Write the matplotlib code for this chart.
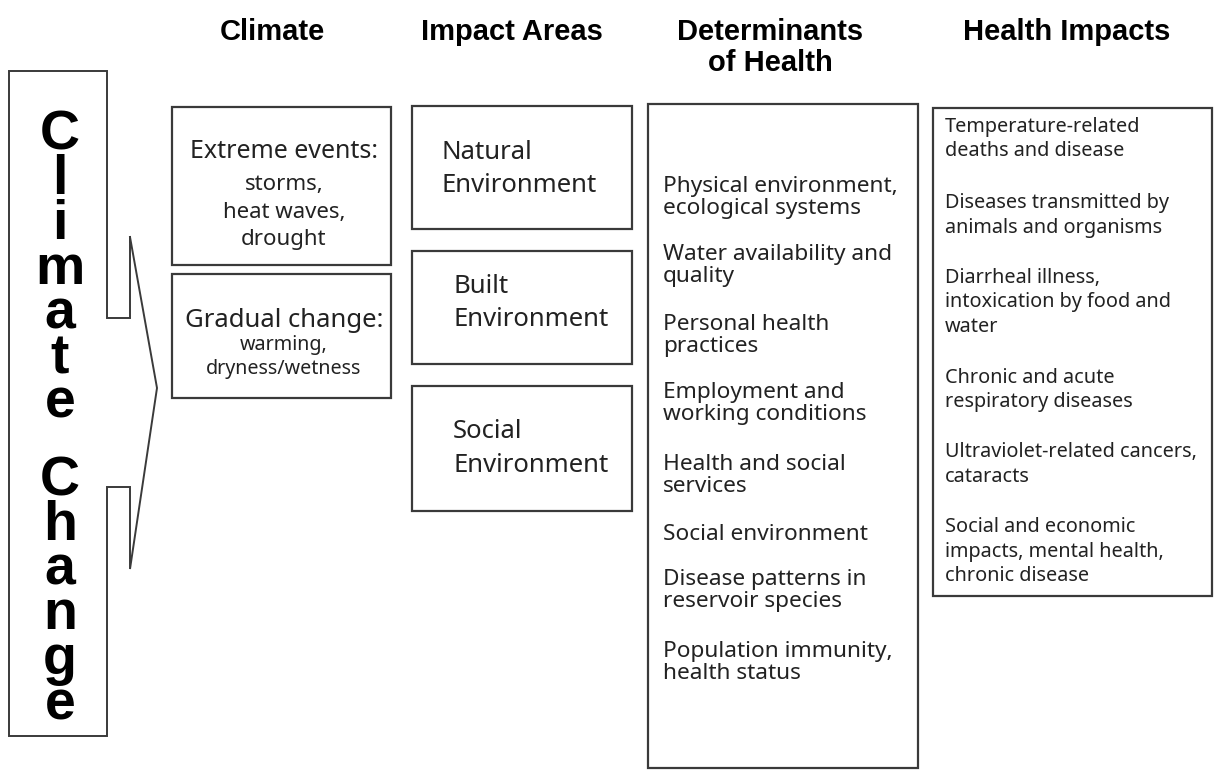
import matplotlib.pyplot as plt
from matplotlib.patches import Rectangle

# column headers
headers = ['Climate', 'Impact Areas', 'Determinants\nof Health', 'Health Impacts']
header_x = [272, 512, 770, 1067]

# vertical title, one word per stack
title_words = ['Climate', 'Change']

# climate boxes: (heading, detail lines)
climate_heads = ['Extreme events:', 'Gradual change:']
climate_details = [['storms,', 'heat waves,', 'drought'],
                   ['warming,', 'dryness/wetness']]

impact_areas = [['Natural', 'Environment'],
                ['Built', 'Environment'],
                ['Social', 'Environment']]

determinants = [
    ['Physical environment,', 'ecological systems'],
    ['Water availability and', 'quality'],
    ['Personal health', 'practices'],
    ['Employment and', 'working conditions'],
    ['Health and social', 'services'],
    ['Social environment'],
    ['Disease patterns in', 'reservoir species'],
    ['Population immunity,', 'health status'],
]

health_impacts = [
    ['Temperature-related', 'deaths and disease'],
    ['Diseases transmitted by', 'animals and organisms'],
    ['Diarrheal illness,', 'intoxication by food and', 'water'],
    ['Chronic and acute', 'respiratory diseases'],
    ['Ultraviolet-related cancers,', 'cataracts'],
    ['Social and economic', 'impacts, mental health,', 'chronic disease'],
]

W, H = 1214, 771
fig = plt.figure(figsize=(W / 100, H / 100), dpi=100)
ax = fig.add_axes([0, 0, 1, 1])
ax.set_xlim(0, W)
ax.set_ylim(H, 0)
ax.axis('off')

body_font = 'Noto Sans'
txt_col = '#222222'
edge = '#3a3a3a'


def box(x0, y0, x1, y1, lw=1.6):
    ax.add_patch(Rectangle((x0, y0), x1 - x0, y1 - y0, fill=False,
                           edgecolor=edge, lw=lw))


# headers (va='baseline' pins the last line)
for name, x in zip(headers, header_x):
    ax.text(x, 40 if '\n' not in name else 71, name, ha='center', va='baseline',
            fontsize=21, fontweight='bold', family='Liberation Sans',
            linespacing=1.15)

# climate change outline with arrow notch
ox0, ox1, oy0, oy1 = 9, 107, 71, 736
nx, tip_x = 130, 157
n_top, n_up, tip_y, n_lo, n_bot = 237, 318, 388, 487, 569
ax.plot([nx, nx, ox1, ox1, ox0, ox0, ox1, ox1, nx, nx, tip_x, nx],
        [n_top, n_up, n_up, oy0, oy0, oy1, oy1, n_lo, n_lo, n_bot, tip_y, n_top],
        color=edge, lw=1.4, solid_joinstyle='miter')

title_last_baseline = [418, 719]
title_spacing = [0.82, 0.82]
for word, yb, ls in zip(title_words, title_last_baseline, title_spacing):
    ax.text(60, yb, '\n'.join(word), ha='center', va='baseline', fontsize=40,
            fontweight='bold', family='Liberation Sans', color='black',
            linespacing=ls)

# climate boxes
box(172, 107, 391, 265)
box(172, 274, 391, 398)
head_y = [158, 327]
head_size = [18, 18.5]
detail_y = [[190, 218, 245], [350, 374]]
detail_size = [16, 14.2]
for head, hy, hs, det, dys, ds in zip(climate_heads, head_y, head_size,
                                      climate_details, detail_y, detail_size):
    ax.text(284, hy, head, ha='center', va='baseline', fontsize=hs,
            family=body_font, color=txt_col)
    for line, yy in zip(det, dys):
        ax.text(284, yy, line, ha='center', va='baseline', fontsize=ds,
                family=body_font, color=txt_col)

# impact area boxes
impact_boxes = [(106, 229), (251, 364), (386, 511)]
impact_text_x = [441, 453, 453]
impact_y = [[159, 192], [293, 326], [438, 472]]
for (y0, y1), tx, lines, ys in zip(impact_boxes, impact_text_x, impact_areas, impact_y):
    box(412, y0, 632, y1)
    for line, yy in zip(lines, ys):
        ax.text(tx, yy, line, ha='left', va='baseline', fontsize=18.5,
                family=body_font, color=txt_col)

# determinants
box(648, 104, 918, 768)
det_y = [192, 260, 330, 398, 470, 540, 585, 657]
for lines, y in zip(determinants, det_y):
    for i, line in enumerate(lines):
        ax.text(663, y + i * 22, line, ha='left', va='baseline', fontsize=16.3,
                family=body_font, color=txt_col)

# health impacts
box(933, 108, 1212, 596)
hi_y = [132, 208, 283, 383, 457, 532]
for lines, y in zip(health_impacts, hi_y):
    for i, line in enumerate(lines):
        ax.text(945, y + i * 24.5, line, ha='left', va='baseline', fontsize=14.3,
                family=body_font, color=txt_col)

fig.savefig('out.png', dpi=100, facecolor='white')
